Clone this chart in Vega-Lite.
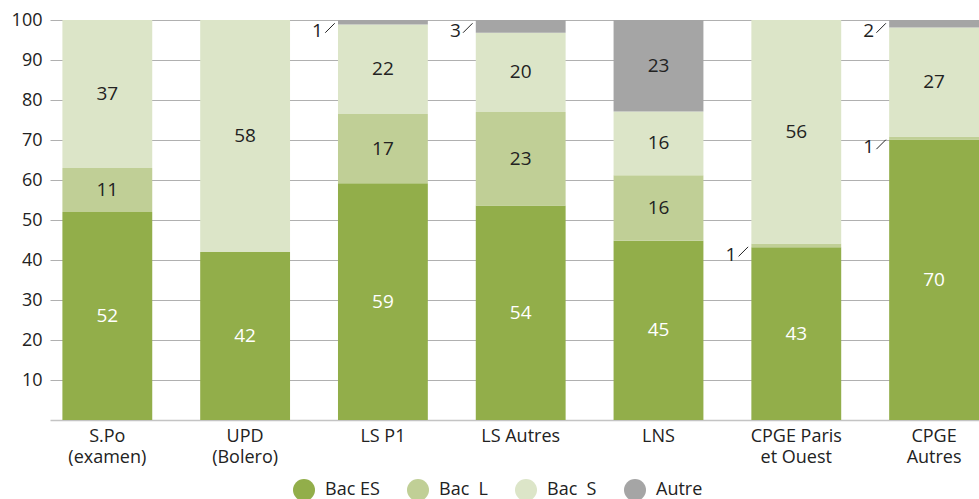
{
  "$schema": "https://vega.github.io/schema/vega-lite/v6.json",
  "width": 929,
  "height": 400,
  "autosize": "none",
  "padding": {"left": 50, "top": 20, "right": 0, "bottom": 79},
  "config": {"font": "Open Sans", "view": {"stroke": null}},
  "data": {
    "values": [
      {"cat": "S.Po\n(examen)", "grp": "Bac ES", "ord": 1, "v": 52},
      {"cat": "S.Po\n(examen)", "grp": "Bac \u00a0L", "ord": 2, "v": 11},
      {"cat": "S.Po\n(examen)", "grp": "Bac \u00a0S", "ord": 3, "v": 37},
      {"cat": "UPD\n(Bolero)", "grp": "Bac ES", "ord": 1, "v": 42},
      {"cat": "UPD\n(Bolero)", "grp": "Bac \u00a0S", "ord": 3, "v": 58},
      {"cat": "LS P1", "grp": "Bac ES", "ord": 1, "v": 59.2},
      {"cat": "LS P1", "grp": "Bac \u00a0L", "ord": 2, "v": 17.3},
      {"cat": "LS P1", "grp": "Bac \u00a0S", "ord": 3, "v": 22.4},
      {"cat": "LS P1", "grp": "Autre", "ord": 4, "v": 1.1},
      {"cat": "LS Autres", "grp": "Bac ES", "ord": 1, "v": 53.6},
      {"cat": "LS Autres", "grp": "Bac \u00a0L", "ord": 2, "v": 23.4},
      {"cat": "LS Autres", "grp": "Bac \u00a0S", "ord": 3, "v": 19.8},
      {"cat": "LS Autres", "grp": "Autre", "ord": 4, "v": 3.2},
      {"cat": "LNS", "grp": "Bac ES", "ord": 1, "v": 44.8},
      {"cat": "LNS", "grp": "Bac \u00a0L", "ord": 2, "v": 16.4},
      {"cat": "LNS", "grp": "Bac \u00a0S", "ord": 3, "v": 15.9},
      {"cat": "LNS", "grp": "Autre", "ord": 4, "v": 22.9},
      {"cat": "CPGE Paris\net Ouest", "grp": "Bac ES", "ord": 1, "v": 43.2},
      {"cat": "CPGE Paris\net Ouest", "grp": "Bac \u00a0L", "ord": 2, "v": 0.9},
      {"cat": "CPGE Paris\net Ouest", "grp": "Bac \u00a0S", "ord": 3, "v": 55.9},
      {"cat": "CPGE\nAutres", "grp": "Bac ES", "ord": 1, "v": 70.1},
      {"cat": "CPGE\nAutres", "grp": "Bac \u00a0L", "ord": 2, "v": 0.8},
      {"cat": "CPGE\nAutres", "grp": "Bac \u00a0S", "ord": 3, "v": 27.2},
      {"cat": "CPGE\nAutres", "grp": "Autre", "ord": 4, "v": 1.9}
    ]
  },
  "encoding": {
    "x": {
      "field": "cat",
      "type": "nominal",
      "sort": null,
      "scale": {"paddingInner": 0.348, "paddingOuter": 0.045, "align": 1},
      "axis": {
        "title": null,
        "labelAngle": 0,
        "ticks": false,
        "domainColor": "#c4c4c4",
        "domainWidth": 1.5,
        "labelPadding": 7,
        "labelFontSize": 18,
        "labelColor": "#222222",
        "labelLineHeight": 21,
        "labelExpr": "split(datum.label, '\\n')"
      }
    }
  },
  "layer": [
    {
      "mark": {"type": "bar"},
      "encoding": {
        "y": {
          "field": "v",
          "type": "quantitative",
          "stack": "zero",
          "scale": {"domain": [0, 100]},
          "axis": {
            "title": null,
            "values": [10, 20, 30, 40, 50, 60, 70, 80, 90, 100],
            "domain": false,
            "ticks": false,
            "labelPadding": 8,
            "labelFontSize": 18,
            "labelColor": "#222222",
            "gridColor": "#b0b0b0",
            "gridWidth": 1
          }
        },
        "color": {
          "field": "grp",
          "type": "nominal",
          "scale": {
            "domain": ["Bac ES", "Bac \u00a0L", "Bac \u00a0S", "Autre"],
            "range": ["#92ae4a", "#c0cf96", "#dce5c8", "#a5a5a5"]
          },
          "legend": {
            "title": null,
            "orient": "none",
            "legendX": 243,
            "legendY": 459,
            "direction": "horizontal",
            "symbolType": "circle",
            "symbolSize": 484,
            "symbolStrokeWidth": 0,
            "labelFontSize": 18,
            "labelColor": "#222222",
            "labelOffset": 10,
            "columnPadding": 27
          }
        },
        "order": {"field": "ord", "type": "quantitative"}
      }
    },
    {
      "mark": {"type": "text", "fontSize": 19, "baseline": "middle"},
      "encoding": {
        "y": {"field": "v", "type": "quantitative", "stack": "zero", "bandPosition": 0.5},
        "detail": {"field": "grp"},
        "order": {"field": "ord", "type": "quantitative"},
        "text": {"condition": {"test": "datum.v >= 5", "field": "v", "format": ".0f"}, "value": ""},
        "color": {"condition": {"test": "datum.grp == 'Bac ES'", "value": "#ffffff"}, "value": "#222222"}
      }
    },
    {
      "transform": [
        {"stack": "v", "groupby": ["cat"], "sort": [{"field": "ord"}], "as": ["s0", "s1"]},
        {"filter": "datum.v < 5"}
      ],
      "layer": [
        {
          "mark": {"type": "text", "fontSize": 19, "align": "right", "baseline": "middle", "dx": -15, "dy": 11, "color": "#222222"},
          "encoding": {
            "x": {"field": "cat", "type": "nominal", "sort": null, "bandPosition": 0},
            "y": {"field": "s1", "type": "quantitative"},
            "text": {"field": "v", "type": "quantitative", "format": ".0f"}
          }
        },
        {
          "mark": {"type": "point", "shape": "M-1,1L1,-1", "size": 90, "filled": false, "stroke": "#222222", "strokeWidth": 1, "opacity": 1, "xOffset": -8, "yOffset": 8},
          "encoding": {
            "x": {"field": "cat", "type": "nominal", "sort": null, "bandPosition": 0},
            "y": {"field": "s1", "type": "quantitative"}
          }
        }
      ]
    }
  ]
}
